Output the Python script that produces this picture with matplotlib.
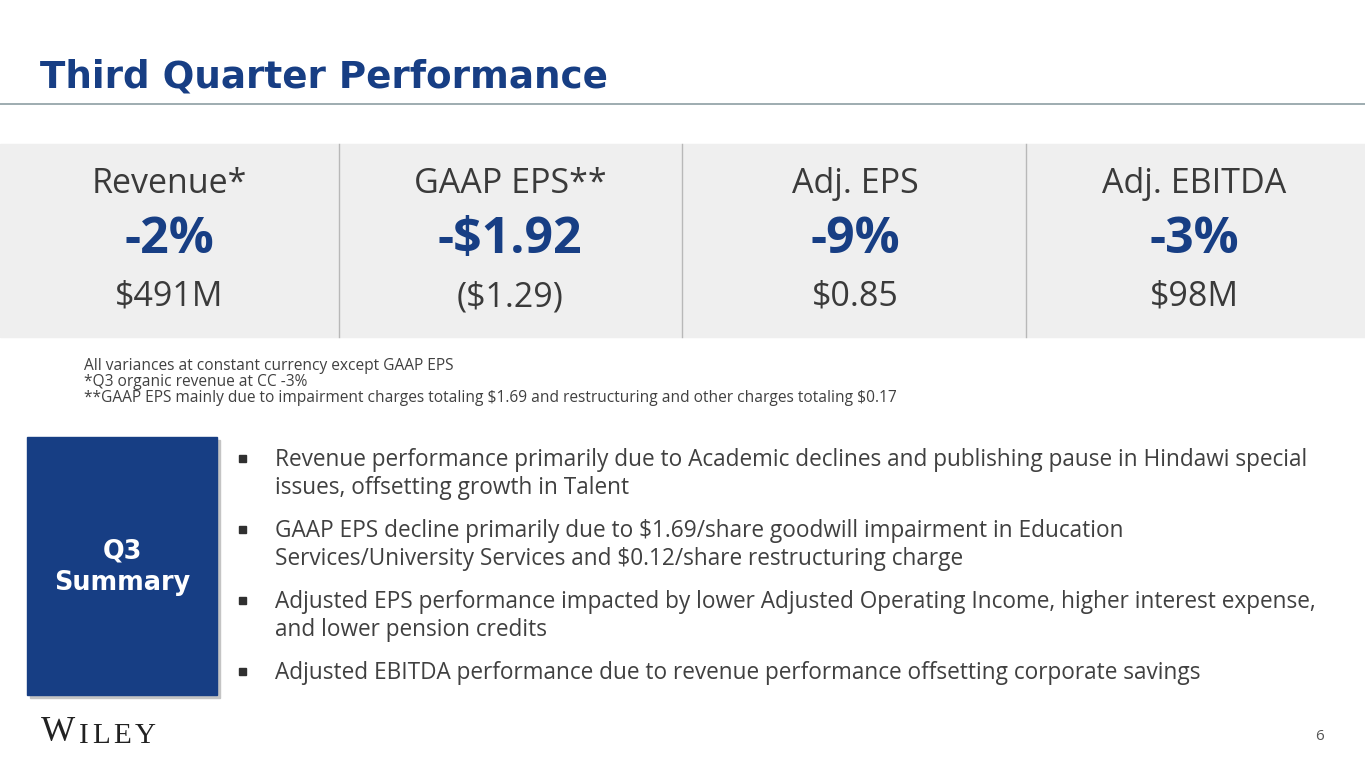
import matplotlib
matplotlib.use("Agg")
import matplotlib.pyplot as plt
from matplotlib.patches import Rectangle

# slide content
title = "Third Quarter Performance"
metric_names = ["Revenue*", "GAAP EPS**", "Adj. EPS", "Adj. EBITDA"]
metric_changes = ["-2%", "-$1.92", "-9%", "-3%"]
metric_values = ["$491M", "($1.29)", "$0.85", "$98M"]
footnotes = [
    "All variances at constant currency except GAAP EPS",
    "*Q3 organic revenue at CC -3%",
    "**GAAP EPS mainly due to impairment charges totaling $1.69 and restructuring and other charges totaling $0.17",
]
bullets = [
    ["Revenue performance primarily due to Academic declines and publishing pause in Hindawi special",
     "issues, offsetting growth in Talent"],
    ["GAAP EPS decline primarily due to $1.69/share goodwill impairment in Education",
     "Services/University Services and $0.12/share restructuring charge"],
    ["Adjusted EPS performance impacted by lower Adjusted Operating Income, higher interest expense,",
     "and lower pension credits"],
    ["Adjusted EBITDA performance due to revenue performance offsetting corporate savings"],
]
box_label = "Q3\nSummary"
page_no = "6"

navy = "#173e84"
gray_txt = "#404040"

W, H = 1365, 768
fig = plt.figure(figsize=(W / 100, H / 100), dpi=100)
ax = fig.add_axes([0, 0, 1, 1])
ax.set_xlim(0, W)
ax.set_ylim(H, 0)
ax.axis("off")

# title + rule
ax.text(40, 77, title, fontsize=26.8, fontweight="bold", color=navy,
        family="DejaVu Sans", va="center", ha="left")
ax.plot([0, W], [104, 104], color="#8d9ea3", lw=1.2)

# metric band
ax.add_patch(Rectangle((0, 144), W, 193, color="#efefef", zorder=0))
for x in [339, 682, 1026]:
    ax.plot([x, x], [144, 337], color="#b8b8b8", lw=1)
centers = [169, 510, 855, 1194]
for cx, n, c, v in zip(centers, metric_names, metric_changes, metric_values):
    ax.text(cx, 184, n, fontsize=24.5, color="#3a3a3a", family="Open Sans",
            ha="center", va="center", parse_math=False)
    ax.text(cx, 240, c, fontsize=36, fontweight="bold", color=navy,
            family="Open Sans", ha="center", va="center", parse_math=False)
    ax.text(cx, 297, v, fontsize=24.5, color="#3a3a3a", family="Open Sans",
            ha="center", va="center", parse_math=False)

# footnotes
for k, line in enumerate(footnotes):
    ax.text(84, 370.5 + k * 16, line, fontsize=11.2, color=gray_txt,
            family="Open Sans", va="baseline", ha="left", parse_math=False)

# summary box with shadow
ax.add_patch(Rectangle((30, 440), 190, 258, color="#c4c4c4", zorder=1))
ax.add_patch(Rectangle((27, 437), 190, 258, color=navy, zorder=2))
ax.text(122, 567, box_label, fontsize=18.4, fontweight="bold", color="white",
        family="DejaVu Sans", ha="center", va="center", linespacing=1.25, zorder=3)

# bullets
y = 458
for item in bullets:
    ax.add_patch(Rectangle((239, y - 3), 6.5, 6.5, color="#303030", zorder=2))
    for line in item:
        ax.text(275, y + 2, line, fontsize=16.3, color=gray_txt, family="Open Sans",
                va="center", ha="left", parse_math=False)
        y += 28
    y += 15

# logo: big W, spaced smaller ILEY
prev = ax.text(41, 741, "W", fontsize=26, color="#222222", family="Liberation Serif",
               va="baseline", ha="left")
for ch in "ILEY":
    prev = ax.annotate(ch, xy=(1, 0), xycoords=prev, xytext=(2.5, 0),
                       textcoords="offset points", fontsize=21, color="#222222",
                       family="Liberation Serif", va="bottom", ha="left")

ax.text(1320, 737, page_no, fontsize=11, color="#555555", family="Open Sans",
        ha="center", va="center")

fig.savefig("out.png", dpi=100, facecolor="white")
